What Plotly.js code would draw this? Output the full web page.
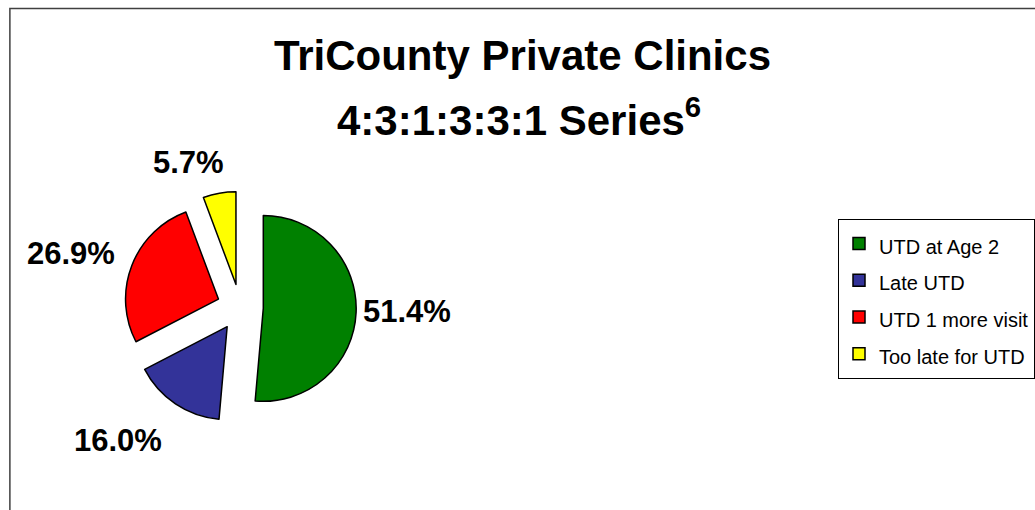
<!DOCTYPE html>
<html>
<head>
<meta charset="utf-8">
<script src="https://cdn.plot.ly/plotly-3.0.1.min.js"></script>
<style>html,body{margin:0;padding:0;background:#fff;}#chart{width:1035px;height:510px;}</style>
</head>
<body>
<div id="chart"></div>
<script>
// ---- data ----
const categories = ["UTD at Age 2", "Late UTD", "UTD 1 more visit", "Too late for UTD"];
const percents = [51.4, 16.0, 26.9, 5.7];
const sliceColors = ["#008000", "#333399", "#FF0000", "#FFFF00"];
const titleLine1 = "TriCounty Private Clinics";
const titleLine2 = "4:3:1:3:3:1 Series<sup>6</sup>";

const FONT = "Arial, 'Liberation Sans', sans-serif";
const W = 1035, H = 510;

// label anchor positions (pixels, layout styling only)
const labelPos = [[412, 311], [119, 440], [72, 253], [191, 162]];

const trace = {
  type: "pie",
  labels: categories.map(c => '<span style="font-size:20px">' + c + '</span>'),
  values: percents,
  sort: false,
  direction: "clockwise",
  rotation: 0,
  pull: 0.25,
  marker: { colors: sliceColors, line: { color: "#000000", width: 1.5 } },
  textinfo: "none",
  domain: { x: [0.1212, 0.3482], y: [0.1669, 0.6276] },
  hoverinfo: "label+percent"
};

const labelAnnotations = percents.map((p, i) => ({
  text: p.toFixed(1) + "%",
  xref: "paper", yref: "paper",
  x: labelPos[i][0] / W, y: 1 - labelPos[i][1] / H,
  xanchor: "center", yanchor: "middle",
  showarrow: false,
  font: { family: FONT, size: 31, color: "#000000", weight: "bold" }
}));

const layout = {
  width: W,
  height: H,
  margin: { l: 0, r: 0, t: 0, b: 0 },
  paper_bgcolor: "#ffffff",
  font: { family: FONT, color: "#000000" },
  title: {
    text: titleLine1,
    font: { family: FONT, size: 42, color: "#000000", weight: "bold" },
    x: 0.5107, xref: "paper", xanchor: "center",
    y: 0.8909, yref: "container", yanchor: "middle"
  },
  annotations: [{
    text: titleLine2,
    xref: "paper", yref: "paper",
    x: 0.5072, y: 1 - 117 / H,
    xanchor: "center", yanchor: "middle",
    showarrow: false,
    font: { family: FONT, size: 42, color: "#000000", weight: "bold" }
  }].concat(labelAnnotations),
  showlegend: true,
  legend: {
    x: 848 / W, xanchor: "left",
    y: 1 - 219 / H, yanchor: "top",
    bgcolor: "#ffffff",
    bordercolor: "#000000",
    borderwidth: 1,
    font: { family: FONT, size: 26, color: "#000000" },
    traceorder: "normal"
  },
  shapes: [{
    type: "rect", xref: "paper", yref: "paper",
    x0: 10 / W, x1: 1.05, y0: -0.05, y1: 1 - 8.5 / H,
    line: { color: "#404040", width: 1.5 },
    fillcolor: "rgba(0,0,0,0)",
    layer: "below"
  }]
};

Plotly.newPlot("chart", [trace], layout, { displayModeBar: false, staticPlot: true });
</script>
</body>
</html>
